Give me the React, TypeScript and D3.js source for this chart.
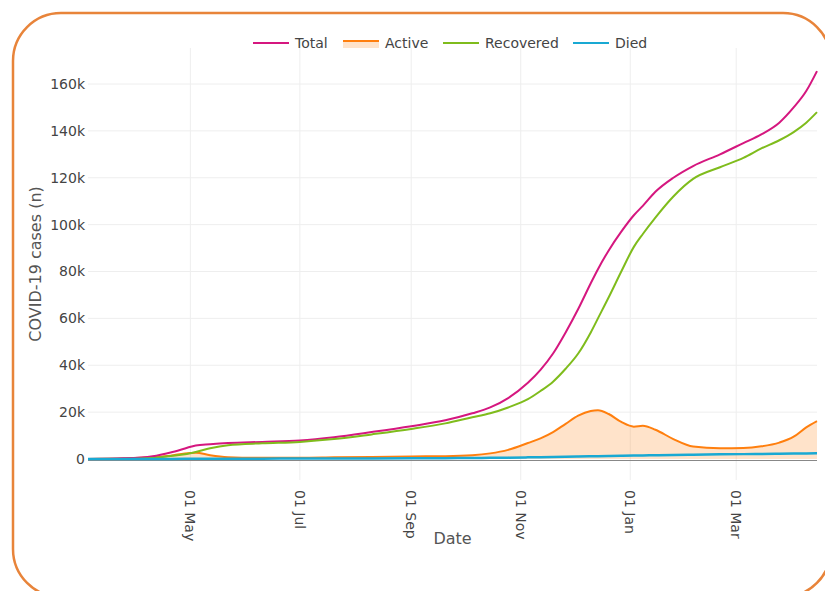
import React, { useRef, useEffect } from "react";
import * as d3 from "d3";

// sampled dates (every ~1-2 weeks)
const dates = [
  "2020-03-05", "2020-03-25", "2020-04-10", "2020-04-20", "2020-04-28", "2020-05-04",
  "2020-05-12", "2020-05-22", "2020-06-10", "2020-07-01", "2020-07-20", "2020-08-10",
  "2020-09-01", "2020-09-20", "2020-10-05", "2020-10-15", "2020-10-25", "2020-11-05",
  "2020-11-12", "2020-11-19", "2020-11-26", "2020-12-03", "2020-12-10", "2020-12-14",
  "2020-12-20", "2020-12-27", "2021-01-03", "2021-01-08", "2021-01-15", "2021-01-25",
  "2021-02-05", "2021-02-20", "2021-03-05", "2021-03-15", "2021-03-25", "2021-04-02",
  "2021-04-09", "2021-04-15",
];

const totalCases = [
  0, 300, 1200, 2800, 4500, 5800, 6300, 6800, 7300, 7900, 9300, 11500,
  14000, 16500, 19500, 22000, 26000, 32500, 38000, 45000, 54000, 64000, 75000, 81000,
  89000, 97000, 104000, 108000, 114000, 120000, 125000, 130000, 134800, 138500, 143500, 150000,
  157000, 165500,
];

const activeCases = [
  0, 300, 800, 1400, 2400, 2700, 1600, 800, 500, 500, 700, 900,
  1100, 1200, 1600, 2400, 3900, 6800, 8800, 11500, 15000, 18500, 20500, 20800,
  19200, 15800, 13800, 14200, 12500, 8500, 5300, 4600, 4700, 5400, 7000, 9500,
  13500, 16200,
];

const recoveredCases = [
  0, 0, 400, 1300, 2000, 3000, 4600, 5900, 6700, 7300, 8500, 10500,
  12800, 15200, 17800, 19500, 22000, 25500, 29000, 33000, 38500, 45000, 54000, 60000,
  69000, 80000, 90500, 96000, 103000, 112000, 119500, 124500, 128500, 132500, 136000, 139500,
  143500, 148000,
];

const diedCases = [
  0, 0, 20, 40, 60, 80, 100, 120, 150, 200, 220, 260,
  300, 360, 430, 500, 580, 700, 780, 860, 950, 1050, 1150, 1200,
  1280, 1380, 1480, 1540, 1620, 1720, 1850, 1980, 2080, 2150, 2220, 2300,
  2380, 2450,
];

const yTicks = [0, 20000, 40000, 60000, 80000, 100000, 120000, 140000, 160000];
const xTicks = ["2020-05-01", "2020-07-01", "2020-09-01", "2020-11-01", "2021-01-01", "2021-03-01"];

const series = [
  { name: "Total", values: totalCases, color: "#d5177f", width: 2 },
  { name: "Active", values: activeCases, color: "#ff7f0e", width: 2 },
  { name: "Recovered", values: recoveredCases, color: "#7fbc1c", width: 2 },
  { name: "Died", values: diedCases, color: "#19a9d3", width: 2.5 },
];

const W = 825;
const H = 591;
const FONT = "'DejaVu Sans', Verdana, sans-serif";

const App = () => {
  const svgRef = useRef(null);

  useEffect(() => {
    document.body.style.margin = "0";
    const svg = d3.select(svgRef.current);
    svg.selectAll("*").remove();

    const left = 88, right = 817, top = 48, bottom = 480;
    const parse = d3.utcParse("%Y-%m-%d");
    const dateObjs = dates.map(d => parse(d));

    const x = d3.scaleUtc()
      .domain([parse("2020-03-05"), parse("2021-04-15")])
      .range([left, right]);
    const y = d3.scaleLinear().domain([-8960, 175360]).range([bottom, top]);

    // card border
    svg.append("rect")
      .attr("x", 13).attr("y", 13)
      .attr("width", 818).attr("height", 584)
      .attr("rx", 48).attr("ry", 48)
      .attr("fill", "#fff")
      .attr("stroke", "#e8843a")
      .attr("stroke-width", 2.5);

    // grid
    const grid = svg.append("g");
    grid.selectAll("line.h")
      .data(yTicks.slice(1))
      .enter().append("line")
      .attr("x1", left).attr("x2", right)
      .attr("y1", d => y(d)).attr("y2", d => y(d))
      .attr("stroke", "#eeeeee").attr("stroke-width", 1);
    grid.selectAll("line.v")
      .data(xTicks)
      .enter().append("line")
      .attr("x1", d => x(parse(d))).attr("x2", d => x(parse(d)))
      .attr("y1", top).attr("y2", bottom)
      .attr("stroke", "#eeeeee").attr("stroke-width", 1);

    // y tick labels
    svg.append("g").selectAll("text")
      .data(yTicks)
      .enter().append("text")
      .attr("x", left - 3)
      .attr("y", d => y(d))
      .attr("dy", "0.35em")
      .attr("text-anchor", "end")
      .attr("font-family", FONT).attr("font-size", 14)
      .attr("fill", "#444")
      .text(d => (d === 0 ? "0" : d / 1000 + "k"));

    // x tick labels (rotated)
    const fmt = d3.utcFormat("%d %b");
    svg.append("g").selectAll("text")
      .data(xTicks)
      .enter().append("text")
      .attr("transform", d => `translate(${x(parse(d))},490) rotate(90)`)
      .attr("dy", "0.35em")
      .attr("text-anchor", "start")
      .attr("font-family", FONT).attr("font-size", 14)
      .attr("fill", "#444")
      .text(d => fmt(parse(d)));

    // axis titles
    svg.append("text")
      .attr("x", (left + right) / 2).attr("y", 544)
      .attr("text-anchor", "middle")
      .attr("font-family", FONT).attr("font-size", 16)
      .attr("fill", "#555")
      .text("Date");
    svg.append("text")
      .attr("transform", `translate(41,${(top + bottom) / 2}) rotate(-90)`)
      .attr("text-anchor", "middle")
      .attr("font-family", FONT).attr("font-size", 16)
      .attr("fill", "#555")
      .text("COVID-19 cases (n)");

    // zero line
    svg.append("line")
      .attr("x1", left).attr("x2", right)
      .attr("y1", y(0) + 1.5).attr("y2", y(0) + 1.5)
      .attr("stroke", "#888").attr("stroke-width", 1);

    // active fill
    const area = d3.area()
      .x((_, i) => x(dateObjs[i]))
      .y0(y(0))
      .y1(d => y(d))
      .curve(d3.curveMonotoneX);
    svg.append("path")
      .attr("d", area(activeCases))
      .attr("fill", "rgba(255,127,14,0.22)");

    const line = d3.line()
      .x((_, i) => x(dateObjs[i]))
      .y(d => y(d))
      .curve(d3.curveMonotoneX);
    const drawOrder = [series[1], series[0], series[2], series[3]];
    svg.append("g").selectAll("path")
      .data(drawOrder)
      .enter().append("path")
      .attr("d", s => line(s.values))
      .attr("fill", "none")
      .attr("stroke", s => s.color)
      .attr("stroke-width", s => s.width)
      .attr("stroke-linejoin", "round");

    // legend
    const legendX = [253, 343, 443, 573];
    const leg = svg.append("g");
    series.forEach((s, i) => {
      const g = leg.append("g").attr("transform", `translate(${legendX[i]},43)`);
      if (s.name === "Active") {
        g.append("rect").attr("x", 0).attr("y", -2).attr("width", 36).attr("height", 7)
          .attr("fill", "rgba(255,127,14,0.22)");
        g.append("line").attr("x1", 0).attr("x2", 36).attr("y1", -2).attr("y2", -2)
          .attr("stroke", s.color).attr("stroke-width", 2);
      } else {
        g.append("line").attr("x1", 0).attr("x2", 36).attr("y1", 0).attr("y2", 0)
          .attr("stroke", s.color).attr("stroke-width", 2);
      }
      g.append("text")
        .attr("x", 42).attr("y", 0).attr("dy", "0.35em")
        .attr("font-family", FONT).attr("font-size", 14)
        .attr("fill", "#444")
        .text(s.name);
    });
  }, []);

  return (
    <div>
      <svg ref={svgRef} width={W} height={H} style={{ display: "block" }}></svg>
    </div>
  );
};

export default App;
